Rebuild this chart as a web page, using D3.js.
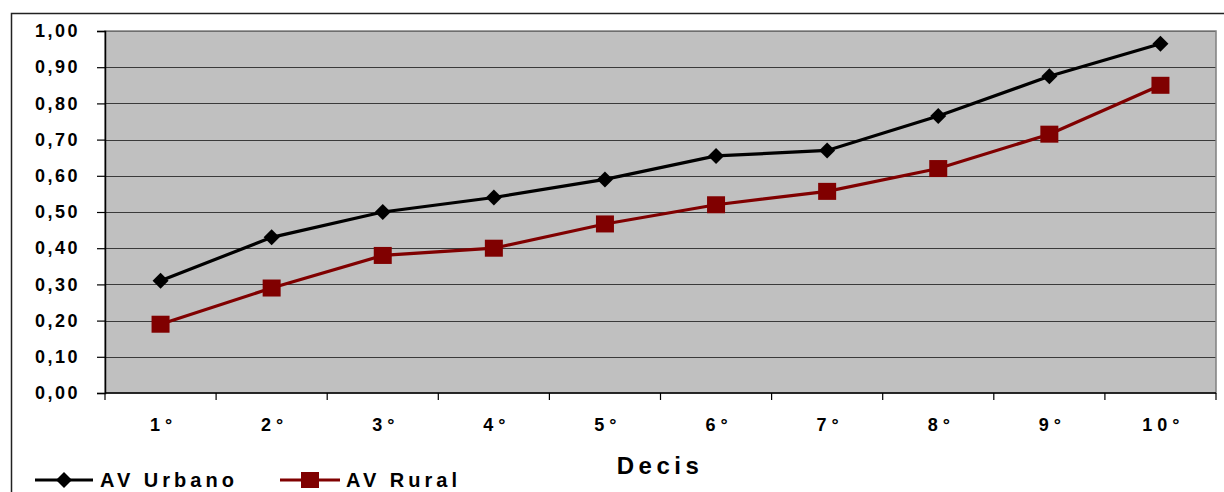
<!DOCTYPE html>
<html><head><meta charset="utf-8">
<script src="https://cdn.jsdelivr.net/npm/d3@7"></script>
<style>body{margin:0;background:#fff;} text{font-family:"Liberation Sans",Arial,sans-serif;font-weight:bold;}</style>
</head><body>
<script>
const categories = ["1°","2°","3°","4°","5°","6°","7°","8°","9°","10°"];
const urbano = [0.31,0.43,0.50,0.54,0.59,0.655,0.67,0.765,0.875,0.965];
const rural = [0.19,0.29,0.38,0.40,0.467,0.52,0.557,0.62,0.715,0.85];
const yTicks = [0,0.1,0.2,0.3,0.4,0.5,0.6,0.7,0.8,0.9,1.0];
const xTitle = "Decis";
const seriesNames = ["AV Urbano","AV Rural"];

const W=1224,H=492;
const m={l:105,t:31,r:1216,b:393};
const svg=d3.select("body").append("svg").attr("width",W).attr("height",H);
// outer frame
svg.append("path").attr("d",`M11.5,${H} V13.5 H${W}`).attr("fill","none").attr("stroke","#222").attr("stroke-width",1.5);

const x=d3.scaleBand().domain(categories).range([m.l,m.r]);
const y=d3.scaleLinear().domain([0,1]).range([m.b,m.t]);

svg.append("rect").attr("x",m.l).attr("y",m.t).attr("width",m.r-m.l).attr("height",m.b-m.t).attr("fill","#c0c0c0");
// gridlines
svg.append("g").selectAll("line").data(yTicks.slice(1)).join("line")
 .attr("x1",m.l).attr("x2",m.r).attr("y1",d=>Math.round(y(d))+0.5).attr("y2",d=>Math.round(y(d))+0.5)
 .attr("stroke","#3a3a3a").attr("stroke-width",1);
svg.append("rect").attr("x",m.l).attr("y",m.t).attr("width",m.r-m.l).attr("height",m.b-m.t).attr("fill","none").attr("stroke","#808080").attr("stroke-width",1.5);

// y axis
const yAxis=d3.axisLeft(y).tickValues(yTicks).tickFormat(d=>d3.format(".2f")(d).replace(".",",")).tickSize(8).tickPadding(17);
const gy=svg.append("g").attr("transform",`translate(${m.l},0)`).call(yAxis);
gy.attr("font-size",null).attr("font-family",null);
gy.select(".domain").attr("stroke","#000").attr("stroke-width",1.5);
gy.selectAll(".tick line").attr("stroke","#000").attr("stroke-width",1.2);
gy.selectAll("text").style("font-size","18px").attr("fill","#000").style("letter-spacing","2.5px");

// x axis
const gx=svg.append("g").attr("transform",`translate(0,${m.b})`);
gx.append("line").attr("x1",m.l).attr("x2",m.r).attr("stroke","#000").attr("stroke-width",1.5);
const bounds=categories.map(c=>x(c)).concat([m.r]);
gx.selectAll("line.t").data(bounds).join("line").attr("class","t")
 .attr("x1",d=>d).attr("x2",d=>d).attr("y1",0).attr("y2",7).attr("stroke","#000").attr("stroke-width",1.2);
gx.selectAll("text").data(categories).join("text")
 .attr("x",d=>x(d)+x.bandwidth()/2+3).attr("y",38).attr("text-anchor","middle")
 .style("font-size","18px").style("letter-spacing","5px").text(d=>d);

svg.append("text").attr("x",660).attr("y",474).attr("text-anchor","middle").style("font-size","24px").style("letter-spacing","4.5px").text(xTitle);

const cx=d=>x(d)+x.bandwidth()/2;
const line=d3.line().x(d=>cx(d[0])).y(d=>y(d[1]));
svg.append("path").datum(categories.map((c,i)=>[c,urbano[i]])).attr("d",line).attr("fill","none").attr("stroke","#000").attr("stroke-width",3.2);
svg.append("path").datum(categories.map((c,i)=>[c,rural[i]])).attr("d",line).attr("fill","none").attr("stroke","#800000").attr("stroke-width",3.2);
const diamond=(px,py,s)=>`M${px},${py-s} L${px+s},${py} L${px},${py+s} L${px-s},${py} Z`;
svg.append("g").selectAll("path").data(categories.map((c,i)=>[c,urbano[i]])).join("path")
 .attr("d",d=>diamond(cx(d[0]),y(d[1]),8)).attr("fill","#000");
svg.append("g").selectAll("rect").data(categories.map((c,i)=>[c,rural[i]])).join("rect")
 .attr("x",d=>cx(d[0])-9).attr("y",d=>y(d[1])-8.5).attr("width",18).attr("height",17).attr("fill","#800000");

// legend
const ly=480;
svg.append("line").attr("x1",35).attr("x2",93).attr("y1",ly).attr("y2",ly).attr("stroke","#000").attr("stroke-width",3);
svg.append("path").attr("d",diamond(64,ly,8)).attr("fill","#000");
svg.append("text").attr("x",100).attr("y",ly+7).style("font-size","20px").style("letter-spacing","4px").text(seriesNames[0]);
svg.append("line").attr("x1",280).attr("x2",340).attr("y1",ly).attr("y2",ly).attr("stroke","#800000").attr("stroke-width",3);
svg.append("rect").attr("x",301).attr("y",ly-8).attr("width",18).attr("height",16).attr("fill","#800000");
svg.append("text").attr("x",346).attr("y",ly+7).style("font-size","20px").style("letter-spacing","4px").text(seriesNames[1]);
</script>
</body></html>
